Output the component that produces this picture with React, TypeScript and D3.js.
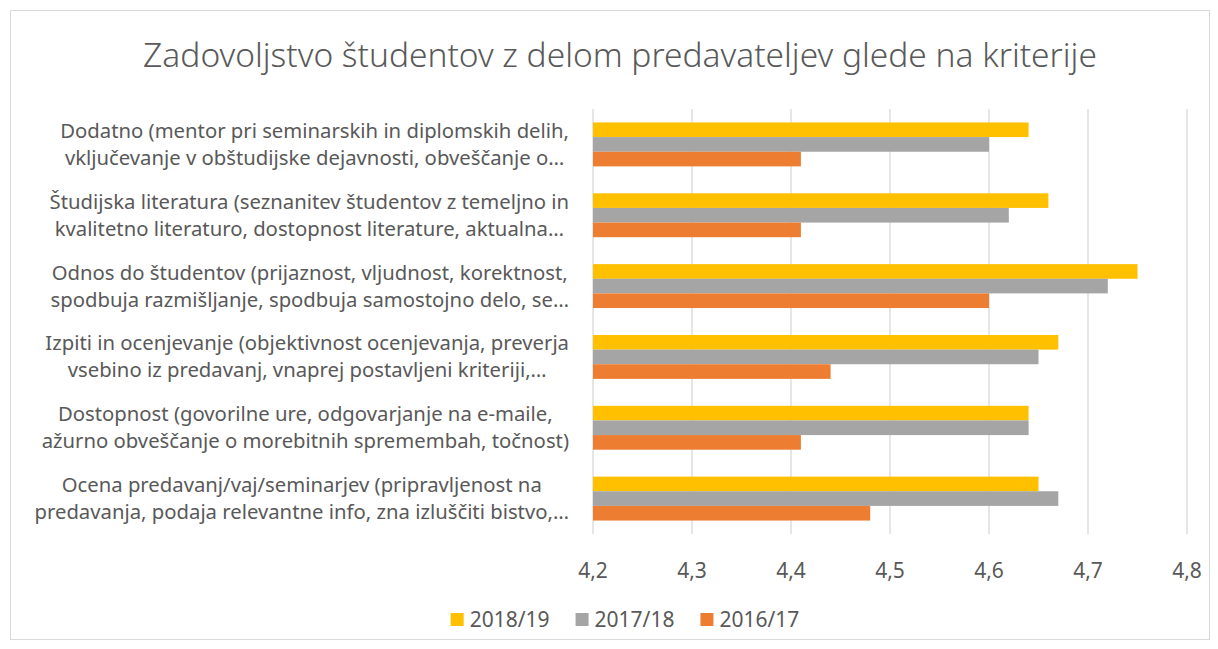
import React, { useRef, useEffect } from 'react';
import * as d3 from 'd3';

const title = 'Zadovoljstvo študentov z delom predavateljev glede na kriterije';

const categories = [
  ['Dodatno (mentor pri seminarskih in diplomskih delih,', 'vključevanje v obštudijske dejavnosti, obveščanje o…'],
  ['Študijska literatura (seznanitev študentov z temeljno in', 'kvalitetno literaturo, dostopnost literature, aktualna…'],
  ['Odnos do študentov (prijaznost, vljudnost, korektnost,', 'spodbuja razmišljanje, spodbuja samostojno delo, se…'],
  ['Izpiti in ocenjevanje (objektivnost ocenjevanja, preverja', 'vsebino iz predavanj, vnaprej postavljeni kriteriji,…'],
  ['Dostopnost (govorilne ure, odgovarjanje na e-maile,', 'ažurno obveščanje o morebitnih spremembah, točnost)'],
  ['Ocena predavanj/vaj/seminarjev (pripravljenost na', 'predavanja, podaja relevantne info, zna izluščiti bistvo,…'],
];

const seriesNames = ['2018/19', '2017/18', '2016/17'];
const seriesColors = ['#FFC000', '#A5A5A5', '#ED7D31'];

const values2018 = [4.64, 4.66, 4.75, 4.67, 4.64, 4.65];
const values2017 = [4.60, 4.62, 4.72, 4.65, 4.64, 4.67];
const values2016 = [4.41, 4.41, 4.60, 4.44, 4.41, 4.48];

const xTicks = [4.2, 4.3, 4.4, 4.5, 4.6, 4.7, 4.8];

const FONT = '"Noto Sans", "Open Sans", sans-serif';
const TEXT = '#595959';

const App = () => {
  const ref = useRef<SVGSVGElement>(null);

  useEffect(() => {
    const svg = d3.select(ref.current);
    svg.selectAll('*').remove();

    const margin = { top: 109, right: 31, bottom: 115, left: 593 };
    const W = 1218;
    const H = 649;

    // chart border
    svg.append('rect')
      .attr('x', 10.5).attr('y', 10.5)
      .attr('width', 1199).attr('height', 629)
      .attr('fill', '#fff')
      .attr('stroke', '#d9d9d9');

    svg.append('text')
      .attr('x', 620).attr('y', 67)
      .attr('text-anchor', 'middle')
      .attr('font-family', FONT)
      .attr('font-weight', 300)
      .attr('font-size', 33.5)
      .attr('fill', TEXT)
      .text(title);

    const x = d3.scaleLinear().domain([4.2, 4.8]).range([margin.left, W - margin.right]);
    const y = d3.scaleBand<number>()
      .domain(d3.range(categories.length))
      .range([margin.top, H - margin.bottom])
      .paddingInner(0.38)
      .paddingOuter(0.19);
    const ySub = d3.scaleBand<number>().domain([0, 1, 2]).range([0, y.bandwidth()]);

    // gridlines
    svg.append('g')
      .selectAll('line')
      .data(xTicks)
      .join('line')
      .attr('x1', d => x(d)).attr('x2', d => x(d))
      .attr('y1', margin.top).attr('y2', H - margin.bottom)
      .attr('stroke', '#d9d9d9')
      .attr('stroke-width', 1.3);

    const series = [values2018, values2017, values2016];
    series.forEach((vals, si) => {
      svg.append('g')
        .selectAll('rect')
        .data(vals)
        .join('rect')
        .attr('x', x(4.2))
        .attr('y', (d, i) => (y(i) as number) + (ySub(si) as number))
        .attr('width', d => x(d) - x(4.2))
        .attr('height', ySub.bandwidth())
        .attr('fill', seriesColors[si]);
    });

    // x tick labels
    svg.append('g')
      .selectAll('text')
      .data(xTicks)
      .join('text')
      .attr('x', d => x(d))
      .attr('y', 578)
      .attr('text-anchor', 'middle')
      .attr('font-family', FONT)
      .attr('font-size', 21)
      .attr('fill', TEXT)
      .text(d => d3.format('.1f')(d).replace('.', ','));

    // category labels: lines centred within a right-aligned block
    const labelRight = 569;
    categories.forEach((lines, i) => {
      const cy = (y(i) as number) + y.bandwidth() / 2;
      const g = svg.append('g');
      const texts = lines.map((ln, li) =>
        g.append('text')
          .attr('y', cy + (li - 0.5) * 27 + 7)
          .attr('text-anchor', 'middle')
          .attr('font-family', FONT)
          .attr('font-size', 20.3)
          .attr('fill', TEXT)
          .text(ln)
      );
      const maxW = d3.max(texts, t => (t.node() as SVGTextElement).getComputedTextLength()) as number;
      texts.forEach(t => t.attr('x', labelRight - maxW / 2));
    });

    // legend
    const lg = svg.append('g');
    let lx = 0;
    seriesNames.forEach((name, i) => {
      lg.append('rect')
        .attr('x', lx).attr('y', 613)
        .attr('width', 13).attr('height', 13)
        .attr('fill', seriesColors[i]);
      const t = lg.append('text')
        .attr('x', lx + 19).attr('y', 627)
        .attr('font-family', FONT)
        .attr('font-size', 21)
        .attr('fill', TEXT)
        .text(name);
      lx += 19 + (t.node() as SVGTextElement).getComputedTextLength() + 26;
    });
    const legendW = lx - 26;
    lg.attr('transform', `translate(${625 - legendW / 2},0)`);
  }, []);

  return (
    <svg
      ref={ref}
      width={1218}
      height={649}
      style={{ position: 'absolute', left: 0, top: 0, background: '#fff' }}
    />
  );
};

export default App;
